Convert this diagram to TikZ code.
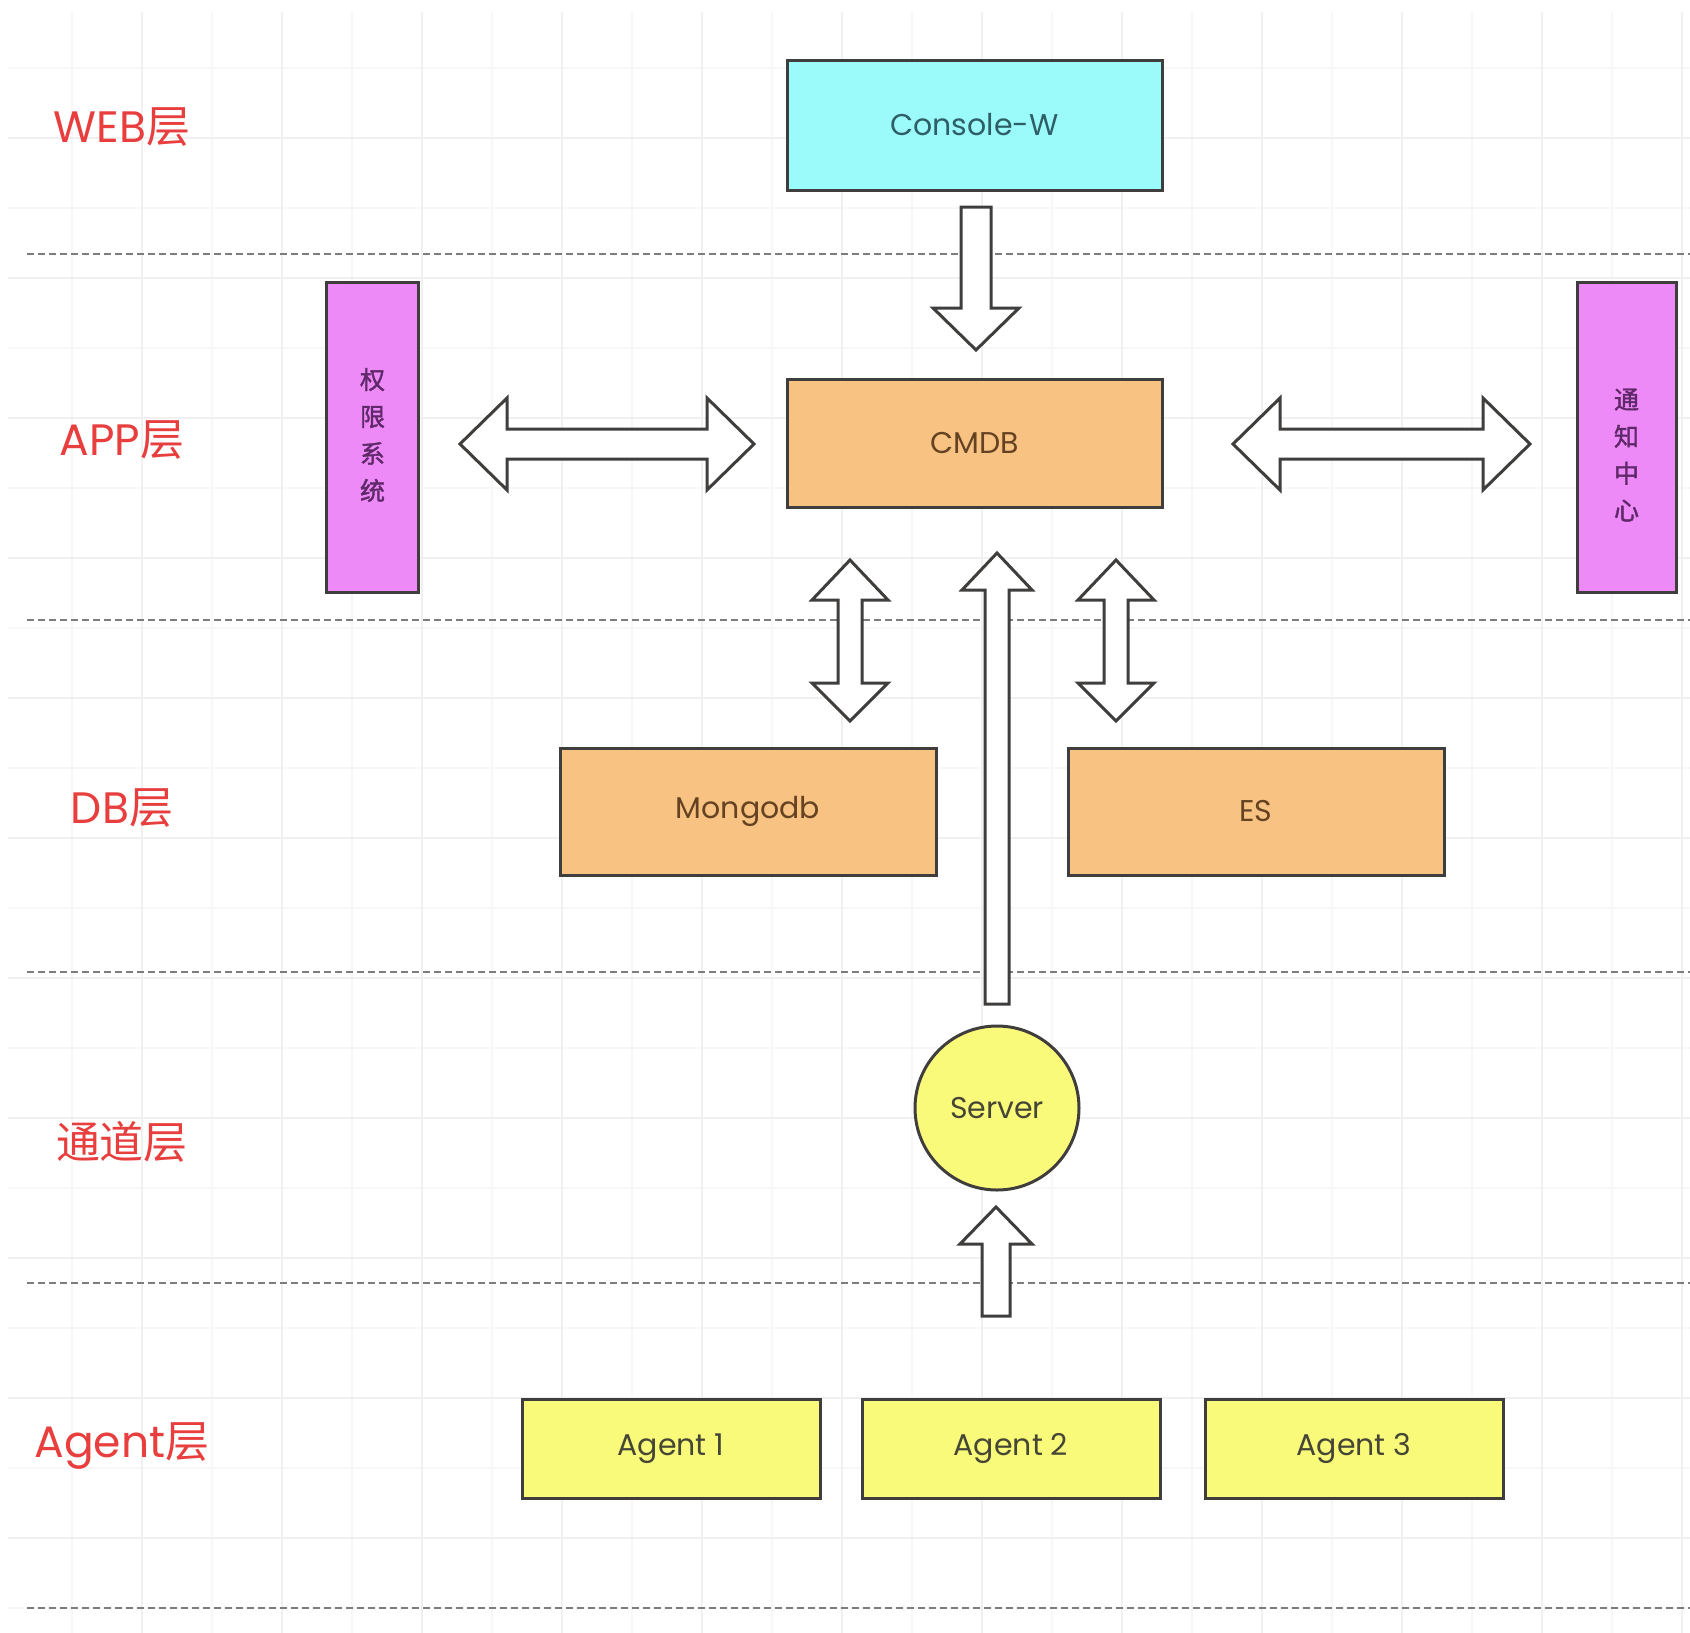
\documentclass[tikz,border=0pt]{standalone}
\usepackage{fontspec}
\setmainfont{Poppins}
\newfontfamily\cjk{Noto Sans CJK SC}
\newfontfamily\cjkv[FakeBold=1.5]{Noto Sans CJK SC}
\usetikzlibrary{calc}
\definecolor{cyanfill}{RGB}{155,250,250}
\definecolor{orangefill}{RGB}{247,194,130}
\definecolor{purplefill}{RGB}{238,138,248}
\definecolor{yellowfill}{RGB}{250,250,122}
\definecolor{boxline}{RGB}{64,62,60}
\definecolor{labelred}{RGB}{232,62,62}
\definecolor{dashgray}{RGB}{125,125,125}
\definecolor{tealtext}{RGB}{46,94,102}
\definecolor{browntext}{RGB}{100,66,34}
\definecolor{purpletext}{RGB}{95,40,105}
\definecolor{agenttext}{RGB}{70,70,55}
\begin{document}
\begin{tikzpicture}[x=1pt,y=-1pt,
  box/.style={draw=boxline, line width=3pt, inner sep=0pt, font=\fontsize{30}{36}\selectfont},
  vbox/.style={box, fill=purplefill, minimum width=92pt, minimum height=310pt},
  vtext/.style={text=purpletext, align=center, inner sep=0pt, font=\cjkv\fontsize{25}{37}\selectfont},
  layerlabel/.style={text=labelred, inner sep=0pt, font=\fontsize{44}{52}\selectfont},
  blockarrow/.style={draw=boxline, fill=white, line width=3pt, line join=miter},
  dashline/.style={draw=dashgray, line width=2.8pt, dash pattern=on 7pt off 4pt},
  gridmajor/.style={draw=black!6, line width=1.6pt},
  gridminor/.style={draw=black!3, line width=1.2pt}]
\useasboundingbox (0,0) rectangle (1690,1633);
\fill[white] (0,0) rectangle (1690,1633);
% faint grid
\begin{scope}
\clip (8,12) rectangle (1690,1633);
\foreach \x in {72,212,...,1690} \draw[gridminor] (\x,0) -- (\x,1633);
\foreach \y in {68,208,...,1633} \draw[gridminor] (0,\y) -- (1690,\y);
\foreach \x in {142,282,...,1690} \draw[gridmajor] (\x,0) -- (\x,1633);
\foreach \y in {138,278,...,1633} \draw[gridmajor] (0,\y) -- (1690,\y);
\end{scope}
% layer separators
\foreach \y in {254,620,972,1283,1608} \draw[dashline] (27,\y) -- (1690,\y);
% layer labels
\node[layerlabel] (lweb) at (122,127) {WEB{\cjk 层}};
\node[layerlabel] (lapp) at (122,440) {APP{\cjk 层}};
\node[layerlabel] (ldb) at (122,808) {DB{\cjk 层}};
\node[layerlabel] (lch) at (122,1142) {{\cjk 通道层}};
\node[layerlabel] (lagent) at (122,1446) {Agent{\cjk 层}};
% boxes
\node[box, fill=cyanfill, minimum width=375pt, minimum height=130pt, text=tealtext] (console) at (974.5,125) {Console-W};
\node[box, fill=orangefill, minimum width=375pt, minimum height=128pt, text=browntext] (cmdb) at (974.5,443) {CMDB};
\node[vbox] (quanxian) at (372.5,437) {};
\node[vtext] (quanxiantext) at (372.5,435) {权\\限\\系\\统};
\node[vbox, minimum width=99pt] (tongzhi) at (1626.5,437) {};
\node[vtext] (tongzhitext) at (1626.5,455) {通\\知\\中\\心};
\node[box, fill=orangefill, minimum width=376pt, minimum height=127pt, text=browntext] (mongodb) at (748,811.5) {Mongodb};
\node[box, fill=orangefill, minimum width=376pt, minimum height=127pt, text=browntext] (es) at (1256,811.5) {ES};
\node[box, circle, fill=yellowfill, minimum size=164pt, text=agenttext] (server) at (997,1108) {Server};
\node[box, fill=yellowfill, minimum width=298pt, minimum height=99pt, text=agenttext] (agent1) at (671,1448.5) {Agent 1};
\node[box, fill=yellowfill, minimum width=298pt, minimum height=99pt, text=agenttext] (agent2) at (1011,1448.5) {Agent 2};
\node[box, fill=yellowfill, minimum width=298pt, minimum height=99pt, text=agenttext] (agent3) at (1354,1448.5) {Agent 3};
% block arrows
% Console-W -> CMDB
\draw[blockarrow] (961,207) -- (991,207) -- (991,308) -- (1019,308) -- (976,350) -- (933,308) -- (961,308) -- cycle;
% 权限系统 <-> CMDB
\draw[blockarrow] (460,444) -- (507,398) -- (507,429) -- (707,429) -- (707,398) -- (754,444) -- (707,490) -- (707,459) -- (507,459) -- (507,490) -- cycle;
% CMDB <-> 通知中心
\draw[blockarrow] (1233,444) -- (1280,398) -- (1280,429) -- (1483,429) -- (1483,398) -- (1530,444) -- (1483,490) -- (1483,459) -- (1280,459) -- (1280,490) -- cycle;
% CMDB <-> Mongodb
\draw[blockarrow] (850,560) -- (888,600) -- (862,600) -- (862,683) -- (888,683) -- (850,721) -- (812,683) -- (838,683) -- (838,600) -- (812,600) -- cycle;
% CMDB <-> ES
\draw[blockarrow] (1116,560) -- (1154,600) -- (1128,600) -- (1128,683) -- (1154,683) -- (1116,721) -- (1078,683) -- (1104,683) -- (1104,600) -- (1078,600) -- cycle;
% Server -> CMDB
\draw[blockarrow] (997,553) -- (1032,590) -- (1009,590) -- (1009,1004) -- (985,1004) -- (985,590) -- (962,590) -- cycle;
% Agents -> Server
\draw[blockarrow] (996,1207) -- (1032,1244) -- (1010,1244) -- (1010,1316) -- (982,1316) -- (982,1244) -- (960,1244) -- cycle;
\end{tikzpicture}
\end{document}
